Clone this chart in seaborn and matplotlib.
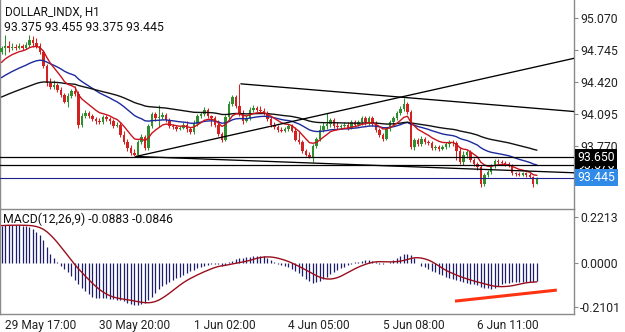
import matplotlib
matplotlib.use("Agg")
import matplotlib.pyplot as plt
import matplotlib.transforms as mtransforms
import numpy as np
import pandas as pd
import seaborn as sns

SYMBOL = "DOLLAR_INDX, H1"
QUOTE = "93.375 93.455 93.375 93.445"
MACD_TITLE = "MACD(12,26,9) -0.0883 -0.0846"

# hourly candles (open = previous close)
FIRST_OPEN = 94.72
CLOSE = [
    94.77, 94.79, 94.77, 94.78, 94.77, 94.79, 94.77, 94.80, 94.85, 94.82,
    94.79, 94.72, 94.58, 94.41, 94.37, 94.39, 94.34, 94.29, 94.22, 94.28,
    94.33, 94.30, 93.98, 94.07, 94.10, 94.07, 94.04, 94.02, 94.01, 94.06,
    94.04, 94.02, 93.97, 93.98, 93.88, 93.81, 93.75, 93.70, 93.68, 93.81,
    93.86, 93.75, 93.97, 94.09, 94.05, 94.06, 94.08, 94.03, 93.97, 93.96,
    93.94, 93.95, 93.98, 93.94, 93.91, 93.99, 94.07, 94.09, 94.13, 94.07,
    94.05, 93.98, 93.89, 93.83, 94.06, 94.19, 94.27, 94.17, 94.09, 94.02,
    94.05, 94.13, 94.15, 94.13, 94.12, 94.10, 94.04, 93.98, 93.96, 93.93,
    93.92, 93.94, 93.97, 93.92, 93.83, 93.81, 93.72, 93.68, 93.65, 93.77,
    93.84, 93.93, 93.97, 93.99, 94.03, 93.97, 93.96, 93.97, 93.98, 93.95,
    94.01, 93.98, 94.01, 94.05, 94.01, 94.05, 93.99, 93.93, 93.88, 93.84,
    93.94, 94.01, 94.05, 94.10, 94.14, 94.19, 94.11, 93.76, 93.83, 93.79,
    93.84, 93.81, 93.80, 93.75, 93.76, 93.74, 93.76, 93.79, 93.81, 93.80,
    93.72, 93.60, 93.68, 93.71, 93.62, 93.58, 93.55, 93.38, 93.47, 93.50,
    93.56, 93.61, 93.60, 93.59, 93.58, 93.56, 93.49, 93.48, 93.47, 93.49,
    93.47, 93.45, 93.375, 93.445,
]
HIGH = [
    94.79, 94.90, 94.84, 94.82, 94.81, 94.82, 94.81, 94.83, 94.90, 94.89,
    94.87, 94.82, 94.74, 94.60, 94.46, 94.44, 94.41, 94.37, 94.31, 94.31,
    94.35, 94.38, 94.33, 94.10, 94.13, 94.12, 94.09, 94.06, 94.05, 94.08,
    94.08, 94.06, 94.04, 94.01, 94.01, 93.92, 93.84, 93.78, 93.74, 93.83,
    93.89, 93.88, 93.99, 94.11, 94.11, 94.18, 94.11, 94.10, 94.05, 93.99,
    93.98, 93.97, 94.01, 94.02, 93.96, 94.03, 94.09, 94.11, 94.16, 94.15,
    94.08, 94.07, 94.03, 93.91, 94.08, 94.23, 94.29, 94.29, 94.40, 94.13,
    94.08, 94.16, 94.18, 94.17, 94.17, 94.15, 94.12, 94.06, 94.01, 93.98,
    93.96, 93.96, 93.99, 93.99, 93.96, 93.91, 93.83, 93.74, 93.71, 93.79,
    93.86, 93.98, 94.01, 94.10, 94.05, 94.05, 94.01, 93.99, 94.01, 94.01,
    94.03, 94.03, 94.03, 94.07, 94.07, 94.07, 94.07, 94.02, 93.95, 93.90,
    93.96, 94.03, 94.07, 94.12, 94.17, 94.26, 94.21, 94.13, 93.85, 93.85,
    93.87, 93.86, 93.83, 93.82, 93.78, 93.78, 93.78, 93.81, 93.83, 93.83,
    93.82, 93.76, 93.72, 93.73, 93.73, 93.64, 93.60, 93.57, 93.49, 93.52,
    93.58, 93.63, 93.63, 93.62, 93.61, 93.60, 93.58, 93.50, 93.50, 93.50,
    93.50, 93.49, 93.46, 93.455,
]
LOW = [
    94.70, 94.69, 94.72, 94.74, 94.74, 94.75, 94.74, 94.75, 94.78, 94.78,
    94.76, 94.70, 94.56, 94.38, 94.35, 94.35, 94.32, 94.27, 94.20, 94.16,
    94.26, 94.28, 93.95, 93.96, 94.05, 94.05, 94.02, 93.99, 93.99, 93.99,
    94.02, 93.99, 93.95, 93.96, 93.86, 93.79, 93.72, 93.68, 93.66, 93.66,
    93.79, 93.73, 93.73, 93.95, 94.02, 93.96, 94.04, 94.01, 93.95, 93.94,
    93.92, 93.93, 93.94, 93.91, 93.89, 93.89, 93.97, 94.05, 94.07, 94.05,
    93.97, 93.96, 93.87, 93.81, 93.82, 94.04, 94.17, 94.15, 94.07, 93.99,
    94.01, 94.03, 94.11, 94.11, 94.11, 94.08, 94.02, 93.96, 93.94, 93.91,
    93.91, 93.91, 93.92, 93.91, 93.82, 93.79, 93.70, 93.66, 93.64, 93.60,
    93.75, 93.82, 93.91, 93.94, 93.96, 93.95, 93.94, 93.95, 93.96, 93.93,
    93.94, 93.96, 93.97, 93.98, 93.98, 93.98, 93.97, 93.91, 93.86, 93.82,
    93.83, 93.92, 93.98, 94.03, 94.08, 94.12, 94.09, 93.74, 93.73, 93.77,
    93.77, 93.79, 93.78, 93.73, 93.73, 93.72, 93.73, 93.74, 93.76, 93.77,
    93.62, 93.58, 93.57, 93.64, 93.60, 93.56, 93.52, 93.35, 93.36, 93.45,
    93.48, 93.54, 93.58, 93.57, 93.56, 93.55, 93.47, 93.46, 93.46, 93.46,
    93.45, 93.44, 93.35, 93.375,
]

# MACD main value per bar (drawn as histogram)
MACD_MAIN = [
    0.180, 0.182, 0.183, 0.183, 0.183, 0.182, 0.180, 0.178, 0.175, 0.165,
    0.150, 0.135, 0.110, 0.075, 0.045, 0.025, 0.005, -0.012, -0.028, -0.045,
    -0.060, -0.080, -0.100, -0.118, -0.135, -0.150, -0.162, -0.168, -0.170, -0.170,
    -0.170, -0.172, -0.174, -0.176, -0.180, -0.184, -0.190, -0.196, -0.200, -0.200,
    -0.197, -0.190, -0.180, -0.165, -0.145, -0.125, -0.110, -0.100, -0.090, -0.080,
    -0.072, -0.065, -0.058, -0.050, -0.040, -0.032, -0.025, -0.018, -0.012, -0.008,
    -0.004, -0.003, -0.005, -0.012, -0.010, 0.004, 0.012, 0.018, 0.022, 0.025,
    0.028, 0.031, 0.033, 0.035, 0.036, 0.033, 0.025, 0.015, 0.005, -0.004,
    -0.010, -0.014, -0.020, -0.028, -0.038, -0.050, -0.062, -0.075, -0.088, -0.095,
    -0.092, -0.085, -0.076, -0.066, -0.052, -0.042, -0.034, -0.026, -0.018, -0.010,
    -0.003, 0.003, 0.007, 0.011, 0.014, 0.015, 0.012, 0.004, -0.003, -0.006,
    -0.002, 0.006, 0.014, 0.024, 0.035, 0.043, 0.045, 0.038, 0.025, 0.002,
    -0.012, -0.020, -0.027, -0.036, -0.045, -0.052, -0.058, -0.066, -0.073, -0.078,
    -0.083, -0.088, -0.091, -0.095, -0.100, -0.103, -0.106, -0.114, -0.120, -0.122,
    -0.125, -0.118, -0.110, -0.102, -0.097, -0.094, -0.091, -0.090, -0.090, -0.090,
    -0.091, -0.090, -0.089, -0.0883,
]

# moving averages: (value just before first bar, smoothing factor, colour)
MOVING_AVERAGES = [
    (94.44, 0.07, "#1c2a9c"),
    (94.25, 0.03, "#111111"),
    (94.58, 0.20, "#c8141c"),
]

TIME_LABELS = ["29 May 17:00", "30 May 20:00", "1 Jun 02:00",
               "4 Jun 05:00", "5 Jun 08:00", "6 Jun 11:00"]
TIME_LABEL_BARS = [1, 28, 55, 82, 109, 136]
PRICE_TICKS = [95.070, 94.745, 94.420, 94.095, 93.770]
MACD_TICKS = [0.2213, 0.0, -0.2101]

LEVELS = [93.570, 93.650]
BID = 93.445
# trend lines: (bar, price) anchor pairs
TRENDLINES = [
    ((38.4, 93.66), (163.6, 94.66)),
    ((38.4, 93.66), (163.6, 93.494)),
    ((68.4, 94.40), (163.6, 94.118)),
]
MACD_TRENDLINE = ((129.6, -0.183), (158.7, -0.130))

GREEN = "#2f8f2f"
RED = "#d42222"
GRID_GREY = "#8a8a8a"

sns.set_style("white")
plt.rcParams["font.family"] = ["Roboto", "DejaVu Sans"]

fig = plt.figure(figsize=(6.25, 3.32), dpi=100)
W, H = 625, 332
ax = fig.add_axes([0, 1 - 209 / H, 574 / W, 209 / H])
mx = fig.add_axes([0, 1 - 314 / H, 574 / W, 105 / H])

bars = np.arange(len(CLOSE))
close = np.array(CLOSE)
open_ = np.r_[FIRST_OPEN, close[:-1]]
colors = np.where(close >= open_, GREEN, RED)

ax.vlines(bars, LOW, HIGH, colors=colors, linewidth=0.75, zorder=2)
body = np.maximum(np.abs(close - open_), 0.004)
ax.bar(bars, body, width=0.62, bottom=np.minimum(open_, close),
       color=colors, linewidth=0, zorder=3)

for seed, alpha, color in MOVING_AVERAGES:
    ma = pd.Series(np.r_[seed, close]).ewm(alpha=alpha, adjust=False).mean().iloc[1:]
    sns.lineplot(x=bars, y=ma.to_numpy(), ax=ax, color=color, linewidth=1.0, zorder=4)

for lvl in LEVELS:
    ax.axhline(lvl, color="black", linewidth=0.9, zorder=4)
ax.axhline(BID, color="#1f1f8a", linewidth=0.8, zorder=4)
for (x0, y0), (x1, y1) in TRENDLINES:
    ax.plot([x0, x1], [y0, y1], color="black", linewidth=0.95, zorder=5)

xlim = (-0.43, 163.6)
ax.set_xlim(*xlim)
ax.set_ylim(93.125, 95.254)
ax.set_xticks([])
ax.yaxis.tick_right()
ax.set_yticks(PRICE_TICKS)
ax.set_yticklabels([f"{v:.3f}" for v in PRICE_TICKS])
ax.tick_params(axis="y", direction="out", length=3, width=0.8, color=GRID_GREY,
               pad=1.5, labelsize=8.8, labelcolor="#222222")
for side in ["top", "bottom"]:
    ax.spines[side].set_visible(False)
for side in ["left", "right"]:
    ax.spines[side].set_color(GRID_GREY)
    ax.spines[side].set_linewidth(1.0)

trans = mtransforms.blended_transform_factory(ax.transAxes, ax.transData)
for lvl in LEVELS:
    ax.text(1.006, lvl, f"{lvl:.3f}", transform=trans, ha="left", va="center",
            fontsize=8.8, color="white", clip_on=False, zorder=6,
            bbox=dict(boxstyle="square,pad=0.18", fc="black", ec="none"))
ax.text(1.006, BID, f"{BID:.3f}", transform=trans, ha="left", va="center",
        fontsize=8.8, color="white", clip_on=False, zorder=6,
        bbox=dict(boxstyle="square,pad=0.18", fc="#2f8ae8", ec="none"))

# MACD panel
macd = np.array(MACD_MAIN)
signal = pd.Series(macd).rolling(9, min_periods=1).mean()
mx.vlines(bars, 0, macd, colors="#1d1d6e", linewidth=0.9, zorder=2)
sns.lineplot(x=bars, y=signal.to_numpy(), ax=mx, color="#9a0e1c", linewidth=1.0, zorder=3)
(mx0, my0), (mx1, my1) = MACD_TRENDLINE
mx.plot([mx0, mx1], [my0, my1], color="#ff3212", linewidth=2.2, zorder=4,
        solid_capstyle="butt")

mx.set_xlim(*xlim)
mx.set_ylim(-0.245, 0.26)
mx.yaxis.tick_right()
mx.set_yticks(MACD_TICKS)
mx.set_yticklabels([f"{v:.4f}" for v in MACD_TICKS])
mx.tick_params(axis="y", direction="out", length=3, width=0.8, color=GRID_GREY,
               pad=1.5, labelsize=8.8, labelcolor="#222222")
mx.set_xticks(TIME_LABEL_BARS)
mx.set_xticklabels(TIME_LABELS, ha="left")
mx.tick_params(axis="x", direction="out", length=3, width=0.8, color=GRID_GREY,
               pad=0.5, labelsize=8.6, labelcolor="#222222")
for side in mx.spines.values():
    side.set_color(GRID_GREY)
    side.set_linewidth(1.0)
mx.set_xlabel("")
mx.set_ylabel("")
ax.set_ylabel("")

fig.text(5 / W, 1 - 12.5 / H, SYMBOL, ha="left", va="center", fontsize=8.4, color="#111111")
fig.text(4 / W, 1 - 27.5 / H, QUOTE, ha="left", va="center", fontsize=8.8, color="#111111")
fig.text(3 / W, 1 - 219 / H, MACD_TITLE, ha="left", va="center", fontsize=8.8, color="#111111")

fig.savefig("out.png", dpi=100, facecolor="white")
